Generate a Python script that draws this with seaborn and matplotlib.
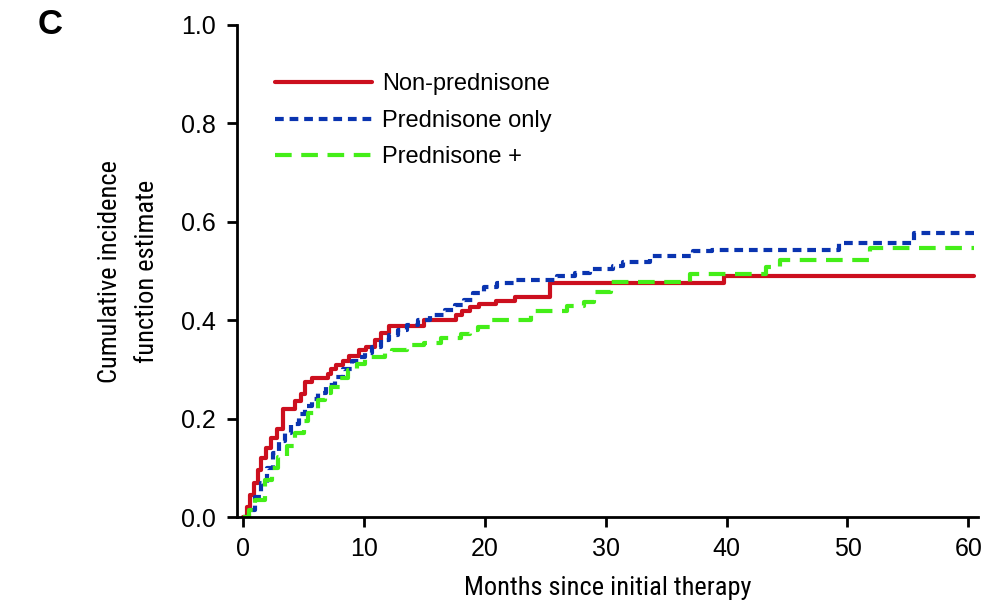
import matplotlib
matplotlib.use("Agg")
import matplotlib.pyplot as plt
import seaborn as sns
import pandas as pd

# step points (months, cumulative incidence)
non_pred_t = [0, 0.3, 0.6, 0.9, 1.2, 1.5, 1.9, 2.3, 2.8, 3.3, 4.3, 4.8, 5.1, 5.7, 7.0, 7.3, 7.7,
              8.3, 8.8, 9.6, 10.2, 10.9, 11.4, 12.1, 15.0, 17.6, 18.1, 18.8, 19.5, 20.9, 22.5,
              25.4, 39.8, 60.5]
non_pred_y = [0, 0.02, 0.045, 0.07, 0.095, 0.12, 0.14, 0.16, 0.18, 0.22, 0.235, 0.25, 0.275,
              0.283, 0.29, 0.30, 0.31, 0.318, 0.328, 0.34, 0.345, 0.36, 0.375, 0.388, 0.40,
              0.41, 0.418, 0.426, 0.434, 0.44, 0.448, 0.475, 0.49, 0.49]

pred_only_t = [0, 0.5, 1.0, 1.5, 2.0, 2.5, 3.0, 3.5, 4.0, 4.6, 5.1, 5.7, 6.2, 6.9, 7.6, 8.3, 9.0,
               9.6, 10.1, 10.7, 11.4, 12.1, 12.8, 13.6, 14.5, 15.5, 16.7, 17.5, 18.3, 19.0, 19.9,
               21.0, 22.4, 26.0, 27.5, 28.7, 30.6, 31.4, 33.7, 37.2, 38.8, 49.3, 55.5, 60.5]
pred_only_y = [0, 0.015, 0.04, 0.07, 0.10, 0.13, 0.155, 0.17, 0.19, 0.21, 0.225, 0.24, 0.252,
               0.268, 0.285, 0.30, 0.318, 0.326, 0.334, 0.345, 0.36, 0.37, 0.38, 0.39, 0.40,
               0.41, 0.421, 0.43, 0.442, 0.455, 0.468, 0.475, 0.482, 0.49, 0.497, 0.504, 0.51,
               0.519, 0.53, 0.54, 0.543, 0.556, 0.577, 0.577]

pred_plus_t = [0, 0.5, 1.0, 1.8, 2.4, 2.9, 3.6, 4.3, 5.0, 5.4, 6.2, 6.8, 7.3, 8.0, 8.7, 9.4, 10.1,
               11.7, 12.3, 13.6, 15.0, 16.4, 18.0, 18.8, 19.4, 20.5, 23.8, 26.8, 28.2, 29.0,
               30.4, 37.0, 43.3, 44.4, 51.9, 60.5]
pred_plus_y = [0, 0.014, 0.035, 0.075, 0.10, 0.123, 0.145, 0.17, 0.195, 0.211, 0.238, 0.252,
               0.265, 0.282, 0.299, 0.312, 0.326, 0.333, 0.339, 0.35, 0.353, 0.363, 0.373, 0.38,
               0.387, 0.40, 0.419, 0.429, 0.438, 0.458, 0.478, 0.494, 0.509, 0.522, 0.546, 0.546]

sns.set_theme(style="ticks")
plt.rcParams['font.family'] = ['Liberation Sans', 'DejaVu Sans']

fig = plt.figure(figsize=(9.98, 6.07), dpi=100)
ax = fig.add_axes([0.2375, 0.148, 0.7425, 0.811])

series = [
    ("Non-prednisone", non_pred_t, non_pred_y, "#cc0f1e", "-"),
    ("Prednisone only", pred_only_t, pred_only_y, "#0a34b0", (0, (2.1, 1.4))),
    ("Prednisone +", pred_plus_t, pred_plus_y, "#44ee18", (0, (4.0, 2.3))),
]
for name, t, y, col, ls in series:
    df = pd.DataFrame({"month": t, "cif": y})
    sns.lineplot(data=df, x="month", y="cif", ax=ax, color=col, linestyle=ls,
                 linewidth=3.0, drawstyle="steps-post", label=name, estimator=None)

ax.set_xlim(-0.5, 60.8)
ax.set_ylim(0, 1.0)
ax.set_xticks([0, 10, 20, 30, 40, 50, 60])
ax.set_yticks([0.0, 0.2, 0.4, 0.6, 0.8, 1.0])
ax.set_yticklabels(["0.0", "0.2", "0.4", "0.6", "0.8", "1.0"])
ax.tick_params(labelsize=18, length=7, width=2, color="black", labelcolor="black",
               direction="out")
ax.tick_params(axis="y", pad=8)
ax.tick_params(axis="x", pad=7)
for s in ["left", "bottom"]:
    ax.spines[s].set_linewidth(2)
    ax.spines[s].set_color("black")
sns.despine(ax=ax)

narrow = ['Roboto Condensed', 'Liberation Sans Narrow', 'DejaVu Sans']
ax.set_xlabel("Months since initial therapy", fontsize=19, family=narrow,
              fontstretch="condensed", color="black", labelpad=11)
ax.set_ylabel("Cumulative incidence\nfunction estimate", fontsize=19, family=narrow,
              fontstretch="condensed", color="black", labelpad=16, linespacing=1.7)

leg = ax.legend(loc="upper left", bbox_to_anchor=(0.051, 0.902), frameon=False, fontsize=17,
                handlelength=4.1, handletextpad=0.45, labelspacing=0.62,
                borderpad=0, borderaxespad=0)
for txt in leg.get_texts():
    txt.set_color("black")

fig.text(0.038, 0.944, "C", fontsize=25, fontweight="bold", va="baseline", ha="left",
         color="black")

fig.savefig("out.png", dpi=100)
